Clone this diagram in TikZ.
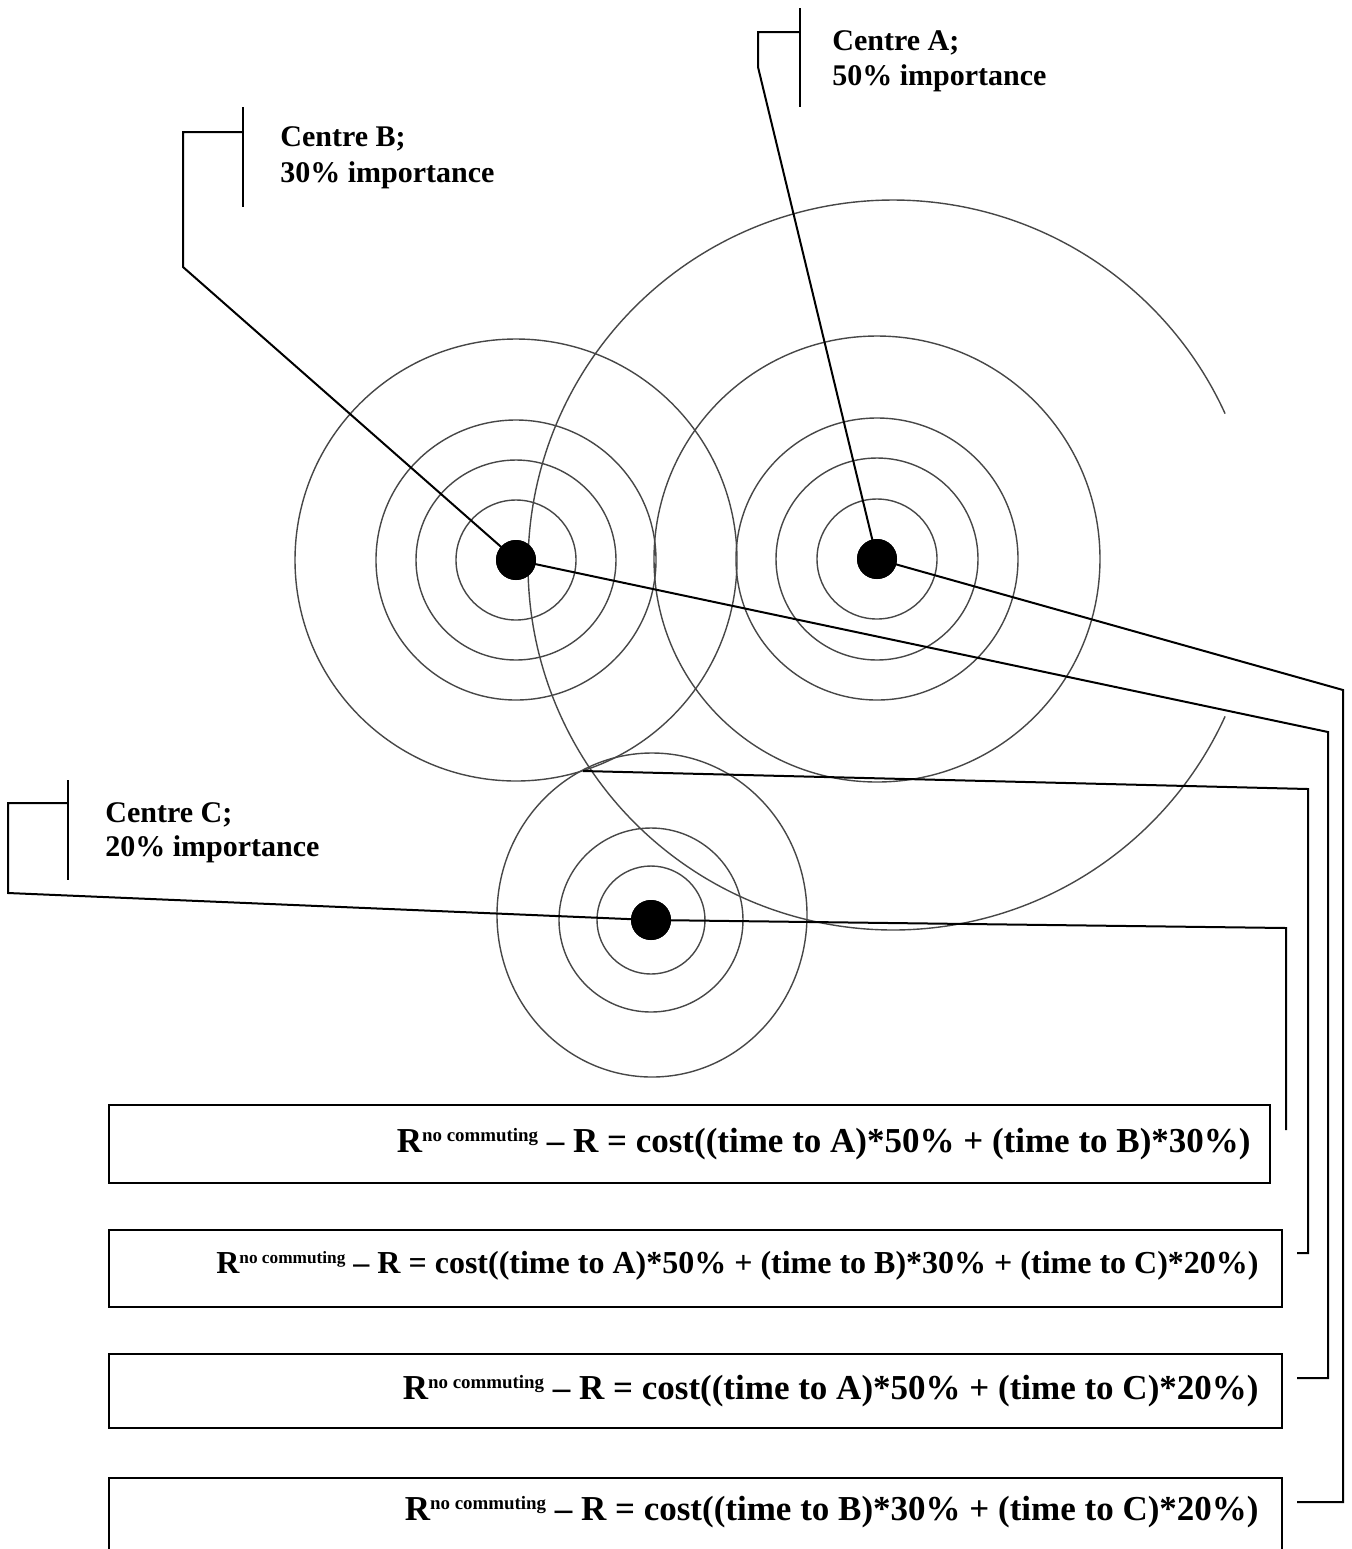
\documentclass[tikz,border=0pt]{standalone}
\usepackage{fontspec}
\setmainfont{Liberation Serif}
\newcommand{\myRnc}{R\raisebox{0.29em}{\fontsize{0.54em}{1em}\selectfont no commuting}}
\begin{document}
\begin{tikzpicture}[x=0.5pt,y=-0.5pt,
  ring/.style={draw=black!72, line width=0.7pt},
  lead/.style={draw=black, line width=1pt},
  dotnode/.style={circle, fill=black, inner sep=0pt, minimum size=20pt},
  fbox/.style={draw=black, line width=1pt, rectangle, inner sep=0pt},
  lab/.style={font=\bfseries\fontsize{15}{18}\selectfont, anchor=base west, inner sep=0pt},
  formula/.style={font=\bfseries\fontsize{17.5}{21}\selectfont, anchor=base east, inner sep=0pt},
  formulasm/.style={font=\bfseries\fontsize{16}{19}\selectfont, anchor=base east, inner sep=0pt}]
\useasboundingbox (0,0) rectangle (1351,1549);
\fill[white] (0,0) rectangle (1351,1549);

% centres
\coordinate (pA) at (877,559);
\coordinate (pB) at (516,560);
\coordinate (pC) at (651,920);

% rings
\foreach \r in {60,101,141,223} \draw[ring] (pA) circle[radius=\r];
\foreach \r in {60,100,140,221} \draw[ring] (pB) circle[radius=\r];
\foreach \r in {54,92} \draw[ring] (pC) circle[radius=\r];
\draw[ring] (652,915) ellipse[x radius=155, y radius=162];
\draw[ring] plot[domain=24.5:335.5, samples=300] ({893+365*cos(\x)},{565+365*sin(\x)});

% dots
\node[dotnode] (dA) at (pA) {};
\node[dotnode] (dB) at (pB) {};
\node[dotnode] (dC) at (pC) {};
\coordinate (pP) at (583,771);

% labels
\node[lab] (labA1) at (832,50) {Centre A;};
\node[lab] (labA2) at (832,85) {50\% importance};
\node[lab] (labB1) at (280,146) {Centre B;};
\node[lab] (labB2) at (280,182) {30\% importance};
\node[lab] (labC1) at (105,822) {Centre C;};
\node[lab] (labC2) at (105,856) {20\% importance};

% label brackets and leaders
\coordinate (aT) at (800,8);   \coordinate (aB) at (800,107);
\coordinate (aH) at (800,32);  \coordinate (aK1) at (758,32); \coordinate (aK2) at (758,67);
\draw[lead] (aT) -- (aB);
\draw[lead] (aH) -- (aK1) -- (aK2) -- (dA.center);

\coordinate (bT) at (243,107); \coordinate (bB) at (243,207);
\coordinate (bH) at (243,132); \coordinate (bK1) at (183,132); \coordinate (bK2) at (183,267);
\draw[lead] (bT) -- (bB);
\draw[lead] (bH) -- (bK1) -- (bK2) -- (dB.center);

\coordinate (cT) at (68,780); \coordinate (cB) at (68,880);
\coordinate (cH) at (68,803); \coordinate (cK1) at (8,803); \coordinate (cK2) at (8,893);
\draw[lead] (cT) -- (cB);
\draw[lead] (cH) -- (cK1) -- (cK2) -- (dC.center);

% boxes
\node[fbox, minimum width=580.5pt, minimum height=39pt] (box1) at (689.5,1144) {};
\node[fbox, minimum width=586.5pt, minimum height=38.5pt] (box2) at (695.5,1268.5) {};
\node[fbox, minimum width=586.5pt, minimum height=37pt] (box3) at (695.5,1391) {};
\node[fbox, minimum width=586.5pt, minimum height=38pt] (box4) at (695.5,1516) {};

\node[formula] (f1) at (1251,1152) {\myRnc{} – R = cost((time to A)*50\% + (time to B)*30\%)};
\node[formulasm] (f2) at (1259,1273) {\myRnc{} – R = cost((time to A)*50\% + (time to B)*30\% + (time to C)*20\%)};
\node[formula] (f3) at (1259,1399) {\myRnc{} – R = cost((time to A)*50\% + (time to C)*20\%)};
\node[formula] (f4) at (1259,1520) {\myRnc{} – R = cost((time to B)*30\% + (time to C)*20\%)};

% right-hand connectors
\coordinate (a1) at (1343,690); \coordinate (a2) at (1343,1502); \coordinate (a3) at (1297,1502);
\draw[lead] (dA.center) -- (a1) -- (a2) -- (a3);
\coordinate (b1) at (1328,732); \coordinate (b2) at (1328,1378); \coordinate (b3) at (1297,1378);
\draw[lead] (dB.center) -- (b1) -- (b2) -- (b3);
\coordinate (p1) at (1308,789); \coordinate (p2) at (1308,1253); \coordinate (p3) at (1297,1253);
\draw[lead] (pP) -- (p1) -- (p2) -- (p3);
\coordinate (c1) at (1286,928); \coordinate (c2) at (1286,1130);
\draw[lead] (dC.center) -- (c1) -- (c2);

% redraw dots on top
\fill (pA) circle[radius=20];
\fill (pB) circle[radius=20];
\fill (pC) circle[radius=20];
\end{tikzpicture}
\end{document}
